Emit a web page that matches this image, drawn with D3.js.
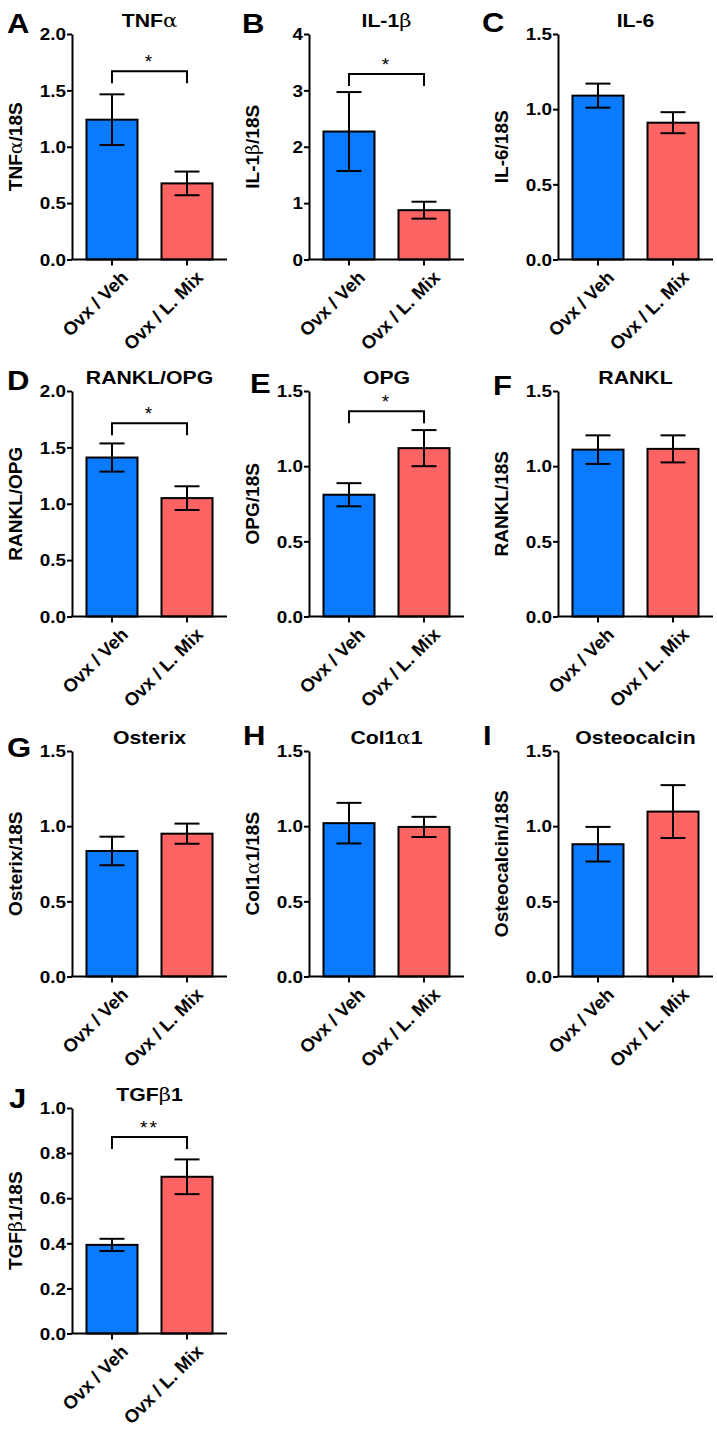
<!DOCTYPE html>
<html>
<head>
<meta charset="utf-8">
<script src="https://cdn.jsdelivr.net/npm/d3@7"></script>
<style>
  html, body { margin: 0; padding: 0; background: #fff; }
  svg { display: block; }
  text { font-family: "Liberation Sans", Arial, sans-serif; font-weight: bold; fill: #000; }
</style>
</head>
<body>
<svg id="chart" width="717" height="1430"></svg>
<script>
// ---------- data ----------
const categories = ["Ovx / Veh", "Ovx / L. Mix"];
const panelLetters = ["A", "B", "C", "D", "E", "F", "G", "H", "I", "J"];
const titles = ["TNFα", "IL-1β", "IL-6", "RANKL/OPG", "OPG", "RANKL", "Osterix", "Col1α1", "Osteocalcin", "TGFβ1"];
const yLabels = ["TNFα/18S", "IL-1β/18S", "IL-6/18S", "RANKL/OPG", "OPG/18S", "RANKL/18S", "Osterix/18S", "Col1α1/18S", "Osteocalcin/18S", "TGFβ1/18S"];
const yMax = [2.0, 4, 1.5, 2.0, 1.5, 1.5, 1.5, 1.5, 1.5, 1.0];
const yTickStep = [0.5, 1, 0.5, 0.5, 0.5, 0.5, 0.5, 0.5, 0.5, 0.2];
const vehMean = [1.24, 2.27, 1.09, 1.41, 0.81, 1.11, 0.835, 1.02, 0.88, 0.393];
const vehSEM = [0.225, 0.70, 0.08, 0.125, 0.077, 0.095, 0.095, 0.135, 0.115, 0.027];
const mixMean = [0.675, 0.875, 0.91, 1.05, 1.12, 1.115, 0.95, 0.995, 1.097, 0.695];
const mixSEM = [0.105, 0.15, 0.07, 0.105, 0.12, 0.09, 0.067, 0.067, 0.176, 0.077];
const sigLabels = ["*", "*", "", "*", "*", "", "", "", "", "**"];
const bracketY = [1.67, 3.29, null, 1.715, 1.365, null, null, null, null, 0.871];

// ---------- layout ----------
const colX = [72, 309, 558];
const rowTop = [34, 391, 751, 1108];
const plotH = 225.5;
const plotW = 155;
const letterPos = [[7, 33], [242, 33], [482, 32], [7, 390], [250, 393], [493, 395], [7, 757], [243, 745], [483, 745], [9, 1108]];
const colors = ["#0a7bff", "#ff6464"];
const SX = 1.18; // horizontal stretch of horizontal text

const svg = d3.select("#chart");

function addRich(sel, str) {
  const parts = str.split(/([αβ])/);
  parts.forEach(p => {
    if (!p) return;
    const t = sel.append("tspan").text(p);
    if (p === "α" || p === "β") {
      t.style("font-family", "'DejaVu Serif', 'Liberation Serif', serif").style("font-weight", "normal");
    }
  });
}

panelLetters.forEach((L, i) => {
  const col = i % 3, row = Math.floor(i / 3);
  const x0 = colX[col], y0 = rowTop[row];
  const g = svg.append("g").attr("transform", `translate(${x0},${y0})`);

  const y = d3.scaleLinear().domain([0, yMax[i]]).range([plotH, 0]);
  const x = d3.scaleBand().domain(categories).range([0, plotW]).paddingInner(0.32).paddingOuter(0.193);

  const means = [vehMean[i], mixMean[i]];
  const sems = [vehSEM[i], mixSEM[i]];
  const rows = categories.map((c, k) => ({ c, m: means[k], s: sems[k], col: colors[k] }));

  g.selectAll("rect.bar").data(rows).enter().append("rect")
    .attr("x", d => x(d.c))
    .attr("y", d => y(d.m))
    .attr("width", x.bandwidth())
    .attr("height", d => y(0) - y(d.m))
    .attr("fill", d => d.col)
    .attr("stroke", "#000")
    .attr("stroke-width", 2);

  const cap = 12.5;
  rows.forEach(d => {
    const cx = x(d.c) + x.bandwidth() / 2;
    g.append("line").attr("x1", cx).attr("x2", cx).attr("y1", y(d.m + d.s)).attr("y2", y(d.m - d.s))
      .attr("stroke", "#000").attr("stroke-width", 2);
    [d.m + d.s, d.m - d.s].forEach(v => {
      g.append("line").attr("x1", cx - cap).attr("x2", cx + cap).attr("y1", y(v)).attr("y2", y(v))
        .attr("stroke", "#000").attr("stroke-width", 2);
    });
  });

  // y axis
  const ticks = d3.range(0, yMax[i] + 1e-9, yTickStep[i]);
  const fmt = yTickStep[i] >= 1 ? d3.format(".0f") : d3.format(".1f");
  const ya = g.append("g").call(d3.axisLeft(y).tickValues(ticks).tickFormat(fmt).tickSize(5).tickSizeOuter(0));
  ya.select(".domain").attr("stroke", "#000").attr("stroke-width", 2);
  ya.selectAll(".tick line").attr("stroke", "#000").attr("stroke-width", 2);
  ya.selectAll(".tick text")
    .style("font-size", "16px").style("font-family", "'Liberation Sans', Arial, sans-serif").style("font-weight", "bold")
    .attr("x", 0).attr("dy", "0.36em")
    .attr("transform", `translate(-6,0) scale(${SX},1)`);

  // x axis
  const xa = g.append("g").attr("transform", `translate(0,${plotH})`)
    .call(d3.axisBottom(x).tickSize(6).tickSizeOuter(0));
  xa.select(".domain").attr("stroke", "#000").attr("stroke-width", 2).attr("d", `M-1,0H${plotW}`);
  xa.selectAll(".tick line").attr("stroke", "#000").attr("stroke-width", 2);
  xa.selectAll(".tick text")
    .style("font-size", "18.5px").style("font-family", "'Liberation Sans', Arial, sans-serif").style("font-weight", "bold")
    .attr("text-anchor", "end")
    .attr("transform", `translate(8,10) rotate(-45)`)
    .attr("dy", "0.7em").attr("y", 0).attr("x", 0);

  // y label
  const yl = g.append("text")
    .attr("transform", `translate(-50,${plotH / 2}) rotate(-90)`)
    .attr("text-anchor", "middle")
    .style("font-size", "19px");
  addRich(yl, yLabels[i]);

  // title
  const tt = g.append("text").attr("transform", `translate(${plotW / 2},-7) scale(${SX},1)`)
    .attr("text-anchor", "middle").style("font-size", "18px");
  addRich(tt, titles[i]);

  // significance bracket
  if (sigLabels[i]) {
    const c1 = x(categories[0]) + x.bandwidth() / 2;
    const c2 = x(categories[1]) + x.bandwidth() / 2;
    const by = y(bracketY[i]);
    g.append("path").attr("d", `M${c1},${by + 12}V${by}H${c2}V${by + 12}`)
      .attr("fill", "none").attr("stroke", "#000").attr("stroke-width", 2);
    g.append("text").attr("x", (c1 + c2) / 2).attr("y", by - 3).attr("text-anchor", "middle")
      .style("font-size", "19px").style("font-weight", "normal").style("letter-spacing", "2px").text(sigLabels[i]);
  }

  // panel letter
  svg.append("text").attr("transform", `translate(${letterPos[i][0]},${letterPos[i][1]}) scale(1.15,1)`)
    .style("font-size", "27px").text(L);
});
</script>
</body>
</html>
